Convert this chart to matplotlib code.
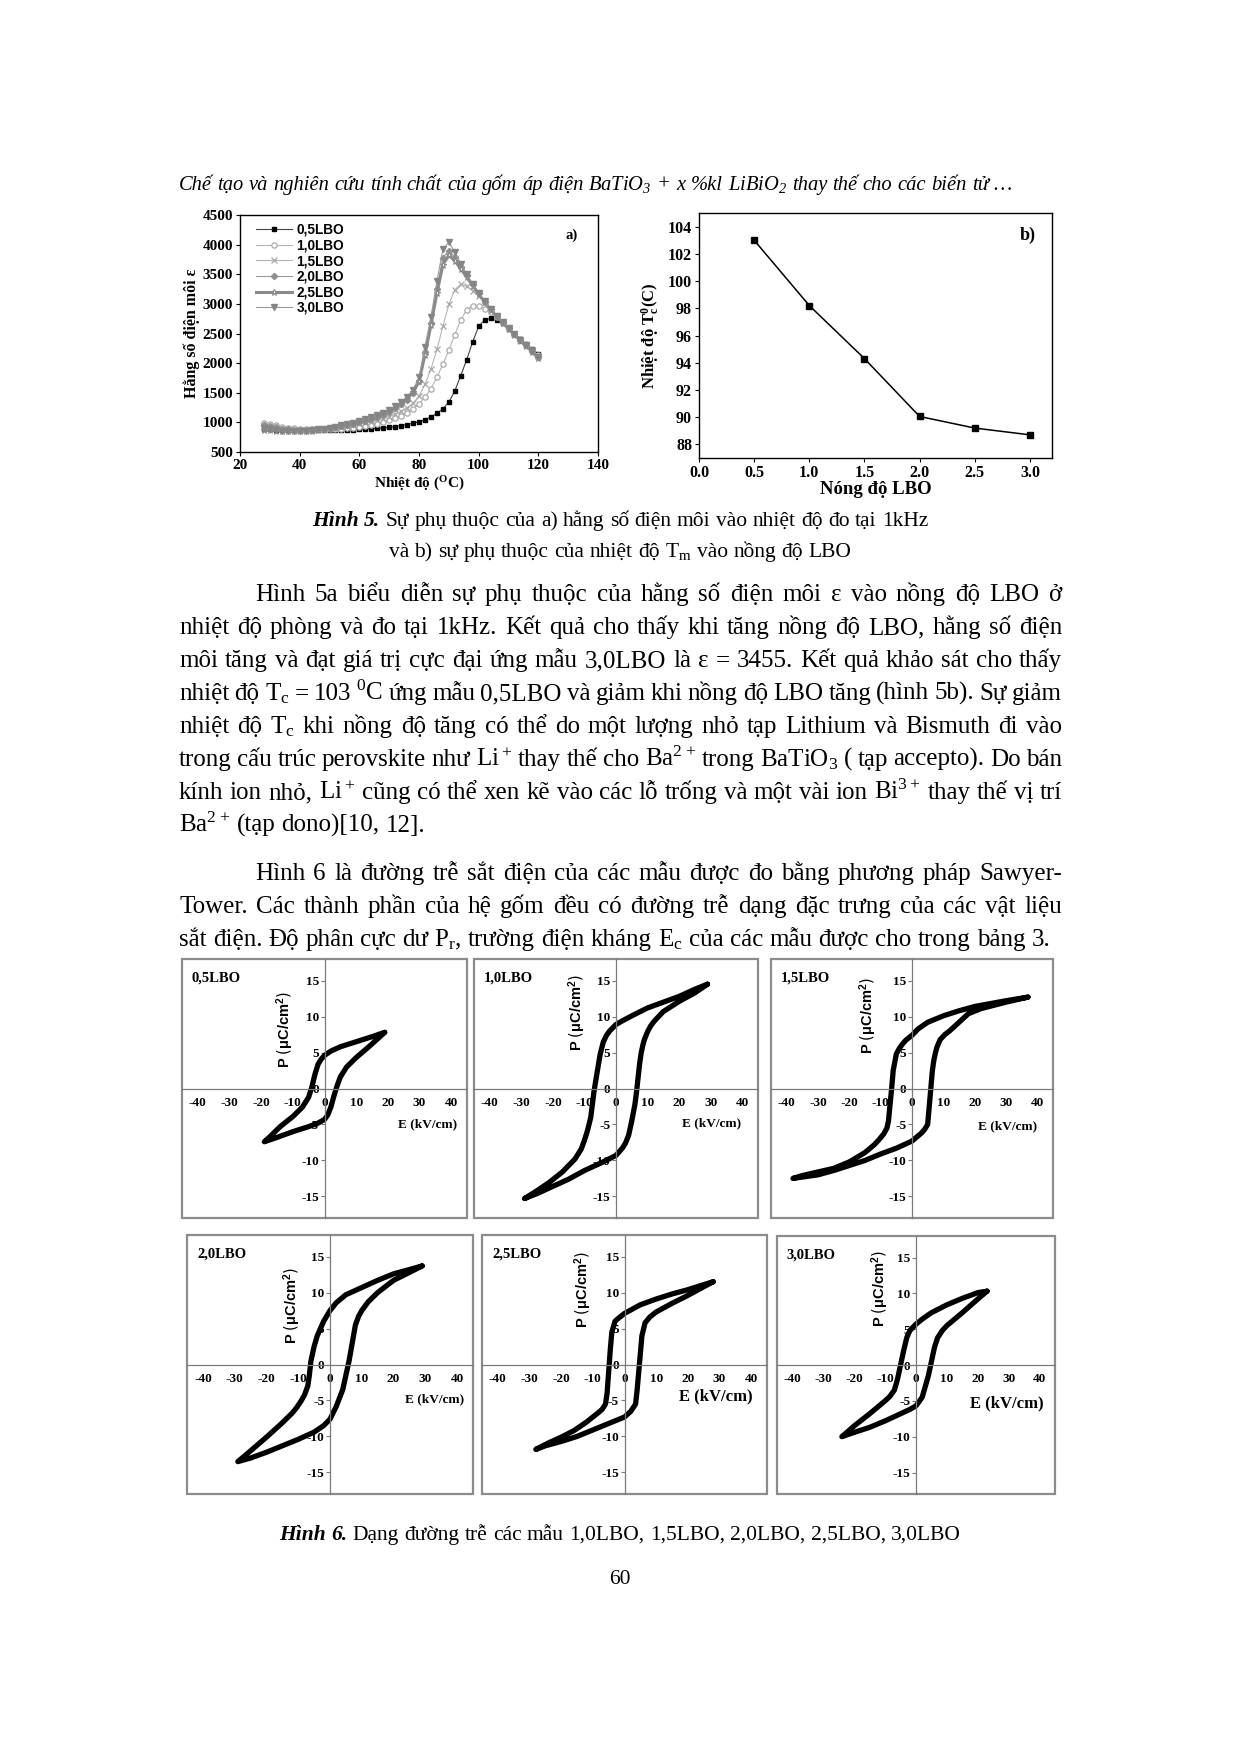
import matplotlib
matplotlib.use("Agg")
import matplotlib.pyplot as plt
from matplotlib.transforms import IdentityTransform
from matplotlib.patches import Rectangle

W, H = 1240, 1753
SERIF = ["Liberation Serif", "DejaVu Serif"]
SANS = ["Liberation Sans", "DejaVu Sans"]

plt.rcParams["font.family"] = SERIF
plt.rcParams["mathtext.default"] = "regular"
plt.rcParams["axes.unicode_minus"] = False

# ---- Fig 5a: dielectric constant vs temperature ----
TEMP_C = [28, 30, 32, 34, 36, 38, 40, 42, 44, 46, 48, 50, 52, 54, 56, 58, 60, 62, 64, 66,
          68, 70, 72, 74, 76, 78, 80, 82, 84, 86, 88, 90, 92, 94, 96, 98, 100, 102, 104, 106,
          108, 110, 112, 114, 116, 118, 120]
EPS_05 = [880, 880, 875, 870, 866, 864, 864, 864, 864, 865, 866, 868, 870, 872, 875, 878, 882, 887, 893, 900,
          908, 918, 930, 945, 963, 985, 1010, 1045, 1090, 1150, 1230, 1340, 1530, 1790, 2060, 2360, 2620, 2730, 2755, 2730,
          2670, 2580, 2490, 2400, 2320, 2235, 2150]
EPS_10 = [985, 970, 950, 930, 912, 898, 888, 882, 880, 880, 881, 884, 888, 894, 902, 912, 925, 940, 958, 980,
          1005, 1035, 1070, 1110, 1160, 1225, 1310, 1420, 1570, 1760, 1980, 2220, 2480, 2730, 2900, 2970, 2960, 2920, 2870, 2780,
          2690, 2590, 2495, 2400, 2310, 2220, 2130]
EPS_15 = [935, 922, 905, 892, 882, 876, 874, 874, 877, 882, 888, 896, 906, 918, 932, 948, 966, 986, 1008, 1034,
          1064, 1098, 1138, 1185, 1245, 1325, 1440, 1640, 1900, 2230, 2620, 2990, 3240, 3330, 3300, 3220, 3130, 3030, 2910, 2800,
          2695, 2590, 2490, 2395, 2305, 2215, 2125]
EPS_20 = [950, 935, 915, 895, 880, 872, 870, 872, 877, 885, 895, 907, 921, 937, 955, 975, 998, 1024, 1054, 1090,
          1132, 1180, 1236, 1302, 1385, 1500, 1700, 2180, 2680, 3250, 3780, 3900, 3790, 3630, 3480, 3330, 3180, 3040, 2915, 2800,
          2695, 2590, 2490, 2392, 2300, 2205, 2110]
EPS_25 = [870, 868, 862, 855, 850, 848, 850, 855, 862, 872, 884, 898, 914, 932, 952, 975, 1000, 1028, 1060, 1096,
          1138, 1186, 1242, 1310, 1395, 1510, 1690, 2140, 2640, 3180, 3660, 3820, 3730, 3590, 3450, 3310, 3165, 3030, 2905, 2790,
          2685, 2580, 2480, 2380, 2285, 2190, 2080]
EPS_30 = [900, 890, 872, 858, 848, 846, 852, 860, 870, 882, 896, 912, 929, 948, 970, 994, 1020, 1050, 1084, 1122,
          1166, 1216, 1274, 1344, 1432, 1550, 1760, 2280, 2780, 3380, 3920, 4040, 3870, 3680, 3500, 3340, 3185, 3045, 2915, 2800,
          2692, 2588, 2488, 2390, 2298, 2200, 2100]
SERIES_LABELS = ["0,5LBO", "1,0LBO", "1,5LBO", "2,0LBO", "2,5LBO", "3,0LBO"]

# ---- Fig 5b: Tc vs LBO content ----
LBO_CONTENT = [0.5, 1.0, 1.5, 2.0, 2.5, 3.0]
TC_VALUES = [103.0, 98.2, 94.3, 90.05, 89.2, 88.7]

# ---- Fig 6: hysteresis loops (desc: +Emax -> -Emax, asc: -Emax -> +Emax) ----
LOOP_NAMES = ["0,5LBO", "1,0LBO", "1,5LBO", "2,0LBO", "2,5LBO", "3,0LBO"]
E_05_DESC = [19, 15, 10, 5, 2, 0, -1, -2, -3, -4, -5, -7, -10, -14, -17, -19]
P_05_DESC = [7.8, 7.2, 6.5, 5.8, 5.2, 4.6, 4.1, 3.4, 2.0, 0.2, -1.2, -2.6, -3.9, -5.3, -6.6, -7.4]
E_05_ASC = [-19, -15, -10, -5, -2, 0, 1, 2, 3, 4, 5, 7, 10, 14, 17, 19]
P_05_ASC = [-7.4, -6.8, -6.0, -5.3, -4.8, -4.3, -3.7, -2.6, -1.0, 0.4, 1.6, 3.0, 4.3, 5.8, 7.0, 7.8]

E_10_DESC = [29, 25, 20, 15, 10, 5, 2, 0, -2, -3, -4, -5, -6, -7, -8, -9, -10, -11, -13, -17, -21, -25, -29]
P_10_DESC = [14.5, 13.8, 12.8, 12.0, 11.2, 10.1, 9.4, 8.9, 8.0, 7.4, 6.5, 4.8, 2.2, -0.5, -4.0, -5.8, -7.2, -8.4, -9.8, -11.6, -13.0, -14.2, -15.3]
E_10_ASC = [-29, -25, -20, -15, -10, -5, 0, 2, 3, 4, 5, 6, 6.5, 7, 7.5, 8, 8.5, 9, 10, 11, 12, 15, 20, 25, 29]
P_10_ASC = [-15.3, -14.6, -13.6, -12.6, -11.4, -10.4, -9.3, -8.3, -7.6, -6.5, -4.5, -2.2, -0.5, 1.5, 3.5, 5.0, 6.0, 6.8, 7.9, 8.7, 9.3, 10.7, 12.1, 13.3, 14.5]

E_15_DESC = [37, 30, 20, 15, 10, 5, 2, 0, -2, -3, -4, -5, -6, -6.5, -7, -7.5, -8, -9, -10.5, -12, -15, -20, -25, -30, -35, -38]
P_15_DESC = [12.7, 12.2, 11.4, 10.8, 10.1, 9.2, 8.3, 7.4, 6.7, 6.2, 5.6, 4.8, 2.5, 0.0, -2.2, -4.5, -5.5, -6.3, -7.1, -7.8, -8.9, -10.2, -11.1, -11.6, -12.1, -12.5]
E_15_ASC = [-38, -30, -25, -20, -15, -10, -5, 0, 3, 4, 5, 5.5, 6, 6.5, 7, 7.5, 8, 9, 10.5, 12, 15, 18, 22, 30, 37]
P_15_ASC = [-12.5, -12.0, -11.4, -10.7, -10.0, -9.1, -8.3, -7.3, -6.2, -5.7, -5.0, -2.5, 0.0, 2.5, 4.0, 5.0, 5.8, 6.8, 7.5, 8.0, 9.2, 10.4, 11.1, 12.0, 12.7]

E_20_DESC = [29, 25, 20, 15, 10, 5, 2, 0, -2, -4, -5, -6, -6.5, -7, -8, -9, -10.5, -12, -15, -20, -25, -29]
P_20_DESC = [13.7, 13.2, 12.6, 11.7, 10.7, 9.7, 8.6, 7.5, 6.0, 4.0, 2.5, 0.5, -1.5, -3.0, -4.2, -5.0, -6.0, -6.8, -8.1, -10.1, -12.0, -13.5]
E_20_ASC = [-29, -25, -20, -15, -10, -5, -2, 0, 2, 4, 5, 6, 7, 8, 9, 10, 12, 15, 20, 25, 29]
P_20_ASC = [-13.5, -13.0, -12.2, -11.3, -10.4, -9.4, -8.5, -7.6, -5.8, -3.5, -1.5, 0.5, 3.0, 5.5, 6.7, 7.5, 8.7, 10.0, 11.7, 12.8, 13.7]

E_25_DESC = [28, 25, 20, 15, 10, 5, 0, -2, -3, -4, -4.5, -5, -5.5, -6, -7, -8, -12, -16, -20, -24, -28]
P_25_DESC = [11.5, 11.1, 10.4, 9.8, 9.1, 8.3, 7.1, 6.4, 6.0, 4.5, 2.0, -1.0, -4.0, -5.5, -6.2, -6.6, -8.0, -9.2, -10.1, -10.9, -11.8]
E_25_ASC = [-28, -25, -20, -15, -10, -5, 0, 2, 3.5, 4, 4.5, 5, 5.5, 6.5, 8, 10, 15, 20, 25, 28]
P_25_ASC = [-11.8, -11.3, -10.7, -10.0, -9.1, -8.2, -7.3, -6.5, -5.5, -3.5, -1.0, 1.5, 4.0, 5.8, 6.6, 7.3, 8.5, 9.6, 10.8, 11.5]

E_30_DESC = [23, 20, 15, 10, 5, 2, 0, -2, -3, -4, -5, -6, -7, -8.5, -10, -15, -20, -24]
P_30_DESC = [10.3, 10.1, 9.3, 8.4, 7.3, 6.4, 5.7, 4.8, 3.8, 2.0, 0.0, -2.0, -3.5, -4.4, -5.0, -6.8, -8.5, -10.0]
E_30_ASC = [-24, -20, -15, -10, -5, -2, 0, 2, 3, 4, 5, 6, 7, 8.5, 10, 15, 20, 23]
P_30_ASC = [-10.0, -9.4, -8.7, -7.8, -6.8, -6.2, -5.7, -4.5, -3.0, -1.5, 0.5, 2.5, 3.8, 4.8, 5.5, 7.3, 9.2, 10.3]

E_TICKS = [-40, -30, -20, -10, 0, 10, 20, 30, 40]
P_TICKS = [-15, -10, -5, 0, 5, 10, 15]

# ---- page text ----
HEADER = "Chế tạo và nghiên cứu tính chất của gốm áp điện BaTiO$_3$ + x %kl LiBiO$_2$ thay thế cho các biến tử …"
CAPTION_5 = [("Hình 5.", "Sự phụ thuộc của a) hằng số điện môi vào nhiệt độ đo tại 1kHz"),
             ("", "và b) sự phụ thuộc của nhiệt độ T$_m$ vào nồng độ LBO")]
PARA_1 = [
    "Hình 5a biểu diễn sự phụ thuộc của hằng số điện môi ε vào nồng độ LBO ở",
    "nhiệt độ phòng và đo tại 1kHz. Kết quả cho thấy khi tăng nồng độ LBO, hằng số điện",
    "môi tăng và đạt giá trị cực đại ứng mẫu 3,0LBO là ε = 3455. Kết quả khảo sát cho thấy",
    "nhiệt độ T$_c$ = 103 $^0$C ứng mẫu 0,5LBO và giảm khi nồng độ LBO tăng (hình 5b). Sự giảm",
    "nhiệt độ T$_c$ khi nồng độ tăng có thể do một lượng nhỏ tạp Lithium và Bismuth đi vào",
    "trong cấu trúc perovskite như Li$^+$ thay thế cho Ba$^{2+}$ trong BaTiO$_3$ ( tạp accepto). Do bán",
    "kính ion nhỏ, Li$^+$ cũng có thể xen kẽ vào các lỗ trống và một vài ion Bi$^{3+}$ thay thế vị trí",
    "Ba$^{2+}$ (tạp dono)[10, 12].",
]
PARA_2 = [
    "Hình 6 là đường trễ sắt điện của các mẫu được đo bằng phương pháp Sawyer-",
    "Tower. Các thành phần của hệ gốm đều có đường trễ dạng đặc trưng của các vật liệu",
    "sắt điện. Độ phân cực dư P$_r$, trường điện kháng E$_c$ của các mẫu được cho trong bảng 3.",
]
CAPTION_6 = ("Hình 6.", "Dạng đường trễ các mẫu 1,0LBO, 1,5LBO, 2,0LBO, 2,5LBO, 3,0LBO")
PAGE_NO = "60"

fig = plt.figure(figsize=(W / 100, H / 100), dpi=100)
fig.patch.set_facecolor("white")
renderer = fig.canvas.get_renderer()
PIX = IdentityTransform()


def box(left, top, right, bottom):
    return [left / W, 1 - bottom / H, (right - left) / W, (bottom - top) / H]


def words(text, **style):
    return [(w, style) for w in text.split(" ") if w]


def draw_runs(runs, x, baseline, size, width=None, center=False):
    arts = [fig.text(0, 0, w, fontsize=size, transform=PIX, ha="left", va="baseline", **st)
            for w, st in runs]
    widths = [a.get_window_extent(renderer).width for a in arts]
    gap = 0.25 * size * 100 / 72
    if width is not None and len(arts) > 1:
        gap = (width - sum(widths)) / (len(arts) - 1)
    total = sum(widths) + gap * (len(arts) - 1)
    if center:
        x = x - total / 2
    for a, w in zip(arts, widths):
        a.set_position((x, H - baseline))
        x += w + gap
    return arts, total


def fit_size(runs, target, base=14):
    arts, total = draw_runs(runs, 0, 0, base)
    for a in arts:
        a.remove()
    return base * target / total


# ---- header ----
hdr_runs = words(HEADER, style="italic")
draw_runs(hdr_runs, 179, 190, fit_size(hdr_runs, 833))

# ---- Fig 5a ----
ax_a = fig.add_axes(box(240, 215, 598, 452))
styles = [
    dict(color="#444444", lw=0.8, marker="s", ms=3.2, mfc="black", mec="black"),
    dict(color="#b5b5b5", lw=0.8, marker="o", ms=3.8, mfc="white", mec="#aaaaaa", mew=0.9),
    dict(color="#b5b5b5", lw=0.8, marker="x", ms=3.8, mec="#a8a8a8", mew=0.9),
    dict(color="#9a9a9a", lw=0.8, marker="D", ms=3.2, mfc="#8f8f8f", mec="#8f8f8f"),
    dict(color="#8a8a8a", lw=2.2, marker="*", ms=4.8, mfc="white", mec="#8a8a8a", mew=0.8),
    dict(color="#9a9a9a", lw=0.8, marker="v", ms=4.2, mfc="#858585", mec="#858585"),
]
for eps, lab, st in zip([EPS_05, EPS_10, EPS_15, EPS_20, EPS_25, EPS_30], SERIES_LABELS, styles):
    ax_a.plot(TEMP_C, eps, label=lab, **st)
ax_a.set_xlim(20, 140)
ax_a.set_ylim(500, 4500)
ax_a.set_xticks(range(20, 141, 20))
ax_a.set_yticks(range(500, 4501, 500))
ax_a.tick_params(direction="out", length=3, width=0.8, labelsize=11, pad=2)
ax_a.set_xlabel("Nhiệt độ ($^O$C)", fontsize=11, fontweight="bold", labelpad=2)
ax_a.set_ylabel("Hằng số điện môi ε", fontsize=11.5, fontweight="bold", labelpad=2)
ax_a.legend(loc="upper left", bbox_to_anchor=(0.03, 0.99), frameon=False, numpoints=1,
            prop=dict(family=SANS, weight="bold", size=9.8), handlelength=2.6,
            handletextpad=0.35, labelspacing=0.12, borderaxespad=0)
ax_a.text(0.925, 0.9, "a)", transform=ax_a.transAxes, fontsize=10.5, fontweight="bold", ha="center")

# ---- Fig 5b ----
ax_b = fig.add_axes(box(699, 213, 1052, 458))
ax_b.plot(LBO_CONTENT, TC_VALUES, color="black", lw=1.1, marker="s", ms=4.4)
ax_b.set_xlim(0, 3.2)
ax_b.set_ylim(87, 105)
ax_b.set_xticks([0.0, 0.5, 1.0, 1.5, 2.0, 2.5, 3.0])
ax_b.set_xticklabels(["0.0", "0.5", "1.0", "1.5", "2.0", "2.5", "3.0"])
ax_b.set_yticks(range(88, 105, 2))
ax_b.tick_params(direction="out", length=3, width=0.8, labelsize=11.5, pad=2)
ax_b.set_xlabel("Nóng độ LBO", fontsize=13.5, fontweight="bold", labelpad=0)
ax_b.set_ylabel("Nhiệt độ T$_c^0$(C)", fontsize=12, fontweight="bold", labelpad=5)
ax_b.text(0.93, 0.89, "b)", transform=ax_b.transAxes, fontsize=13, fontweight="bold", ha="center")

for ax in (ax_a, ax_b):
    for lab in ax.get_xticklabels() + ax.get_yticklabels():
        lab.set_fontweight("bold")
    for sp in ax.spines.values():
        sp.set_linewidth(1.0)

# ---- captions & body text ----
cap6_runs = words(CAPTION_6[0], style="italic", weight="bold") + words(CAPTION_6[1])
cap_size = fit_size(cap6_runs, 687)
for (lead, rest), base in zip(CAPTION_5, [526, 557]):
    runs = (words(lead, style="italic", weight="bold") if lead else []) + words(rest)
    draw_runs(runs, 620, base, cap_size, center=True)

body_size = fit_size(words(PARA_2[-1]), 875)
LEFT, RIGHT, INDENT = 179, 1062, 76
for para, first in ((PARA_1, 601), (PARA_2, 880)):
    for i, line in enumerate(para):
        x0 = LEFT + (INDENT if i == 0 else 0)
        last = i == len(para) - 1
        draw_runs(words(line), x0, first + 33 * i, body_size,
                  width=None if last else RIGHT - x0)

draw_runs(cap6_runs, 620, 1540, cap_size, center=True)
draw_runs(words(PAGE_NO), 620, 1584, cap_size, center=True)

# ---- Fig 6 hysteresis panels ----
loops = [(E_05_DESC, P_05_DESC, E_05_ASC, P_05_ASC), (E_10_DESC, P_10_DESC, E_10_ASC, P_10_ASC),
         (E_15_DESC, P_15_DESC, E_15_ASC, P_15_ASC), (E_20_DESC, P_20_DESC, E_20_ASC, P_20_ASC),
         (E_25_DESC, P_25_DESC, E_25_ASC, P_25_ASC), (E_30_DESC, P_30_DESC, E_30_ASC, P_30_ASC)]
panel_boxes = [(182, 959, 467, 1218), (474, 959, 758, 1218), (771, 959, 1053, 1218),
               (187, 1235, 473, 1494), (482, 1235, 767, 1494), (777, 1236, 1055, 1494)]
plabel_pos = [(-12.3, 8.2), (-12.3, 10.5), (-14.0, 10.1), (-11.8, 8.2), (-13.0, 10.4), (-11.7, 10.7)]
elabel_pos = [(42, -5.0), (39.7, -4.9), (40, -5.3), (42.3, -4.9), (40.5, -4.5), (41.3, -5.4)]
elabel_size = [9.5, 9.5, 9.5, 9.5, 12, 12]

for name, (ed, pd_, ea, pa), bx, plp, elp, els in zip(LOOP_NAMES, loops, panel_boxes,
                                                      plabel_pos, elabel_pos, elabel_size):
    ax = fig.add_axes(box(*bx))
    ax.plot(ed + ea, pd_ + pa, color="black", lw=3.8, solid_joinstyle="round",
            solid_capstyle="round")
    ax.set_xlim(-45, 45)
    ax.set_ylim(-18, 18)
    ax.spines["left"].set_position("zero")
    ax.spines["bottom"].set_position("zero")
    ax.spines["top"].set_visible(False)
    ax.spines["right"].set_visible(False)
    for k in ("left", "bottom"):
        ax.spines[k].set_color("#7a7a7a")
        ax.spines[k].set_linewidth(0.9)
    ax.add_patch(Rectangle((0, 0), 1, 1, transform=ax.transAxes, fill=False,
                           edgecolor="#8c8c8c", lw=1.6, clip_on=False))
    ax.set_xticks(E_TICKS)
    ax.set_yticks(P_TICKS)
    ax.tick_params(axis="x", length=0, pad=6, labelsize=9.5, colors="#7a7a7a", labelcolor="black")
    ax.tick_params(axis="y", direction="out", length=3, pad=1, labelsize=9.5,
                   colors="#7a7a7a", labelcolor="black")
    for lab in ax.get_xticklabels() + ax.get_yticklabels():
        lab.set_fontweight("bold")
    ax.text(0.035, 0.95, name, transform=ax.transAxes, fontsize=10.5, fontweight="bold",
            ha="left", va="top")
    ax.text(plp[0], plp[1], r"P $\left(\mu C/cm^2\right)$", rotation=90, family=SANS,
            fontweight="bold", fontsize=10.5, ha="center", va="center")
    ax.text(elp[0], elp[1], "E (kV/cm)", fontweight="bold", fontsize=els, ha="right", va="center")

fig.savefig("out.png", dpi=100)
